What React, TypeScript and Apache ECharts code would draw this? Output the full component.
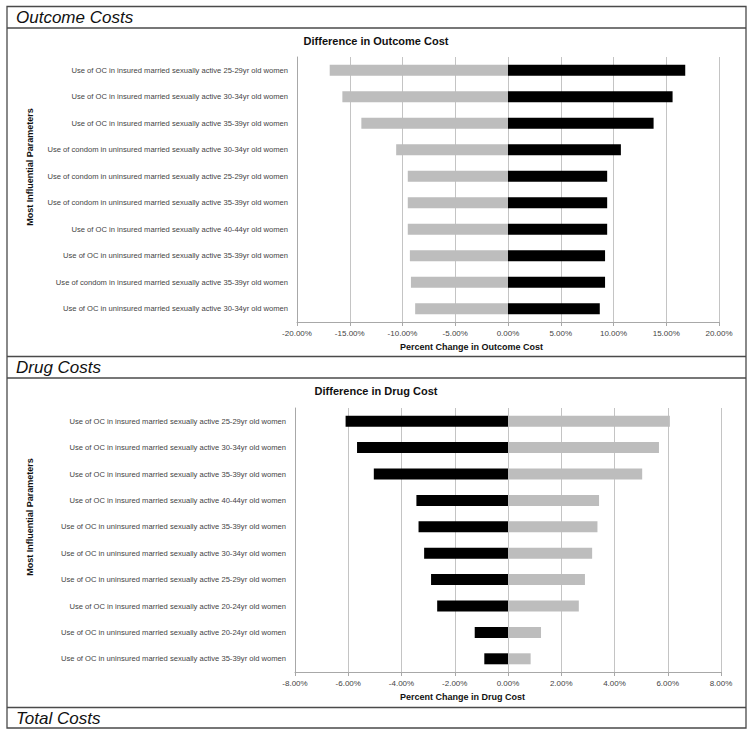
import React, { useEffect, useRef } from "react";
import * as echarts from "echarts";

const outcomeCategories = [
  "Use of OC in insured married sexually active 25-29yr old women",
  "Use of OC in insured married sexually active 30-34yr old women",
  "Use of OC in insured married sexually active 35-39yr old women",
  "Use of condom in uninsured married sexually active 30-34yr old women",
  "Use of condom in uninsured married sexually active 25-29yr old women",
  "Use of condom in uninsured married sexually active 35-39yr old women",
  "Use of OC in insured married sexually active 40-44yr old women",
  "Use of OC in uninsured married sexually active 35-39yr old women",
  "Use of condom in insured married sexually active 35-39yr old women",
  "Use of OC in uninsured married sexually active 30-34yr old women",
];
const outcomeLow = [-16.9, -15.7, -13.9, -10.6, -9.5, -9.5, -9.5, -9.3, -9.2, -8.8];
const outcomeHigh = [16.8, 15.6, 13.8, 10.7, 9.4, 9.4, 9.4, 9.2, 9.2, 8.7];

const drugCategories = [
  "Use of OC in insured married sexually active 25-29yr old women",
  "Use of OC in insured married sexually active 30-34yr old women",
  "Use of OC in insured married sexually active 35-39yr old women",
  "Use of OC in insured married sexually active 40-44yr old women",
  "Use of OC in uninsured married sexually active 35-39yr old women",
  "Use of OC in uninsured married sexually active 30-34yr old women",
  "Use of OC in uninsured married sexually active 25-29yr old women",
  "Use of OC in insured married sexually active 20-24yr old women",
  "Use of OC in uninsured married sexually active 20-24yr old women",
  "Use of OC in uninsured married sexually active 35-39yr old women",
];
const drugLow = [-6.1, -5.67, -5.04, -3.44, -3.36, -3.15, -2.89, -2.66, -1.25, -0.89];
const drugHigh = [6.08, 5.67, 5.04, 3.42, 3.36, 3.16, 2.89, 2.66, 1.24, 0.85];

const sectionTitles = ["Outcome Costs", "Drug Costs", "Total Costs"];
const chartTitles = ["Difference in Outcome Cost", "Difference in Drug Cost"];
const xAxisTitles = ["Percent Change in Outcome Cost", "Percent Change in Drug Cost"];
const yAxisTitle = "Most Influential Parameters";

const GRAY = "#bdbdbd";
const BLACK = "#000000";
const GRID = "#c4c4c4";
const FONT = "'Liberation Sans', Arial, sans-serif";

export default function App() {
  const ref = useRef<HTMLDivElement>(null);
  useEffect(() => {
    if (!ref.current) return;
    const chart = echarts.init(ref.current, undefined, { renderer: "svg" });
    const pct = (v: number) => v.toFixed(2) + "%";
    const xAxisBase = (gridIndex: number, min: number, max: number, interval: number) => ({
      gridIndex,
      type: "value",
      min,
      max,
      interval,
      axisLabel: { formatter: pct, fontSize: 8, color: "#444", fontFamily: FONT, margin: 7 },
      axisLine: { show: true, onZero: false, lineStyle: { color: "#a8a8a8" } },
      axisTick: { show: true, length: 4, lineStyle: { color: "#a8a8a8" } },
      splitLine: { show: true, lineStyle: { color: GRID } },
    });
    const yAxisBase = (gridIndex: number, data: string[]) => ({
      gridIndex,
      type: "category",
      inverse: true,
      data,
      axisLabel: { fontSize: 7.6, color: "#444", fontFamily: FONT, margin: 9 },
      axisLine: { show: true, onZero: false, lineStyle: { color: "#a8a8a8" } },
      axisTick: { show: false },
      splitLine: { show: false },
    });
    const lineStyle = { stroke: "#4a4a4a", lineWidth: 1.3 };
    const hLine = (y: number) => ({ type: "line", shape: { x1: 7, y1: y, x2: 746, y2: y }, style: lineStyle, silent: true });
    const txt = (text: string, x: number, y: number, font: string, align = "center", rotation = 0) => ({
      type: "text",
      x,
      y,
      rotation,
      style: { text, font, fill: "#111", align, verticalAlign: "middle" },
      silent: true,
    });
    chart.setOption({
      animation: false,
      backgroundColor: "#ffffff",
      grid: [
        { left: 297, top: 57, width: 422, height: 265 },
        { left: 295, top: 408, width: 426, height: 264 },
      ],
      xAxis: [xAxisBase(0, -20, 20, 5), xAxisBase(1, -8, 8, 2)],
      yAxis: [yAxisBase(0, outcomeCategories), yAxisBase(1, drugCategories)],
      series: [
        { type: "bar", xAxisIndex: 0, yAxisIndex: 0, stack: "outcome", barWidth: 11, data: outcomeLow, itemStyle: { color: GRAY } },
        { type: "bar", xAxisIndex: 0, yAxisIndex: 0, stack: "outcome", barWidth: 11, data: outcomeHigh, itemStyle: { color: BLACK } },
        { type: "bar", xAxisIndex: 1, yAxisIndex: 1, stack: "drug", barWidth: 11, data: drugLow, itemStyle: { color: BLACK } },
        { type: "bar", xAxisIndex: 1, yAxisIndex: 1, stack: "drug", barWidth: 11, data: drugHigh, itemStyle: { color: GRAY } },
      ],
      graphic: [
        { type: "rect", shape: { x: 7, y: 6.5, width: 739, height: 721.5 }, style: { fill: "none", ...lineStyle }, silent: true },
        hLine(28),
        hLine(356.5),
        hLine(378),
        hLine(707.5),
        txt(sectionTitles[0], 16, 17.5, `italic 17px ${FONT}`, "left"),
        txt(sectionTitles[1], 16, 367.5, `italic 17px ${FONT}`, "left"),
        txt(sectionTitles[2], 16, 718, `italic 17px ${FONT}`, "left"),
        txt(chartTitles[0], 376, 40.5, `bold 11px ${FONT}`),
        txt(chartTitles[1], 376, 390.5, `bold 11px ${FONT}`),
        txt(xAxisTitles[0], 471.5, 346.5, `bold 9px ${FONT}`),
        txt(xAxisTitles[1], 462.5, 696.5, `bold 9px ${FONT}`),
        txt(yAxisTitle, 30, 167, `bold 9px ${FONT}`, "center", Math.PI / 2),
        txt(yAxisTitle, 30, 517, `bold 9px ${FONT}`, "center", Math.PI / 2),
      ],
    });
    return () => chart.dispose();
  }, []);
  return (
    <div
      ref={ref}
      style={{ position: "absolute", left: 0, top: 0, width: 754, height: 736, background: "#fff" }}
    />
  );
}
